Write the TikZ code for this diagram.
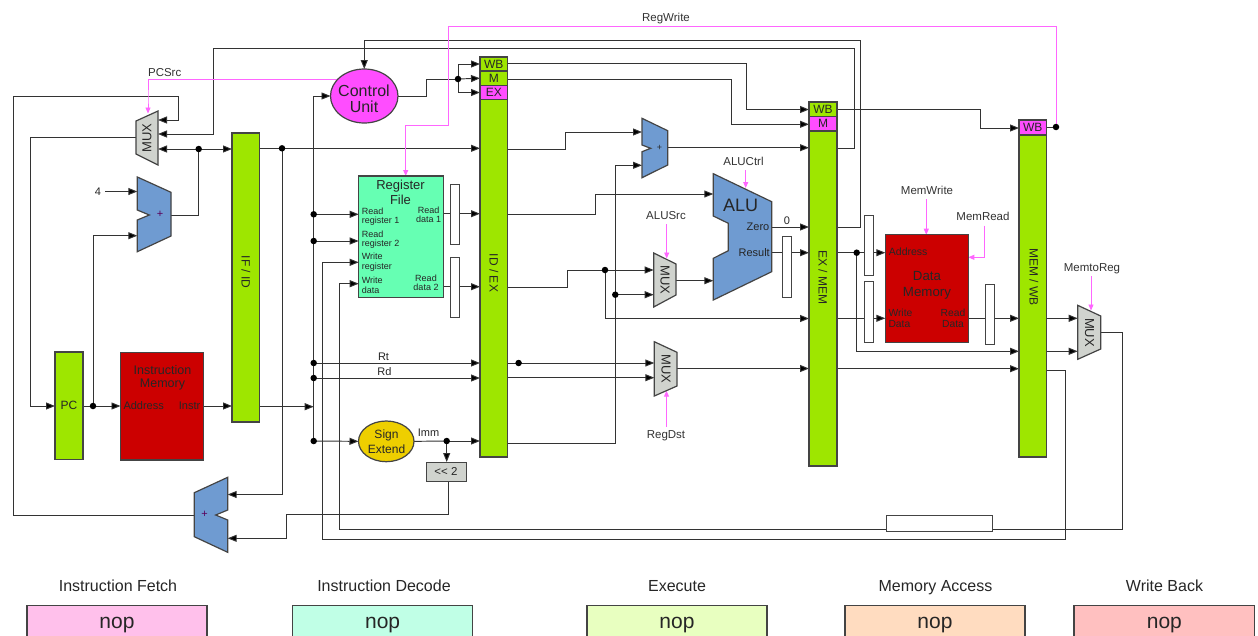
\documentclass[tikz,border=0pt]{standalone}
\usepackage{fontspec}
\setmainfont{Liberation Sans}
\usetikzlibrary{arrows.meta,shapes.geometric}
\pgfdeclarelayer{front}
\pgfsetlayers{main,front}
\definecolor{barg}{HTML}{9EE600}
\definecolor{hot}{HTML}{FF4DFF}
\definecolor{adderb}{HTML}{6F9BD1}
\definecolor{muxg}{HTML}{D0D3CE}
\definecolor{regg}{HTML}{66FFB3}
\definecolor{memr}{HTML}{CC0000}
\definecolor{signy}{HTML}{EECF00}
\definecolor{ink}{HTML}{333333}
\definecolor{edgec}{HTML}{444444}
\definecolor{ctlp}{HTML}{FF66FF}
\definecolor{stpa}{HTML}{FFC0EB}
\definecolor{stpb}{HTML}{C0FFE6}
\definecolor{stpc}{HTML}{E8FFC0}
\definecolor{stpd}{HTML}{FFDCC0}
\definecolor{stpe}{HTML}{FFC0C0}
\newcommand{\fs}[2]{\fontsize{#1}{#2}\selectfont}
\newcommand{\blk}[7]{\node[#1,minimum width={(#5-#3)*1pt},minimum height={(#6-#4)*1pt}] (#2) at ({(#3+#5)/2},{(#4+#6)/2}) {#7};}
\newcommand{\nopword}{\raisebox{-7pt}[0pt][0pt]{nop}}
\tikzset{
  part/.style={draw=edgec,line width=1.2pt,inner sep=0pt,outer sep=0pt,align=center,text=black!85},
  bar/.style={part,fill=barg},
  hotcell/.style={part,fill=hot,font=\fs{12}{12}},
  greencell/.style={part,fill=barg,font=\fs{12}{12}},
  latch/.style={part,fill=white,line width=1pt},
  redblock/.style={part,fill=memr},
  ghost/.style={inner sep=0pt,outer sep=0pt,align=center},
  shapeblue/.style={draw=edgec,line width=1.2pt,fill=adderb,line join=miter},
  shapemux/.style={draw=edgec,line width=1.2pt,fill=muxg,line join=miter},
  txt/.style={inner sep=0pt,align=center,text=black!85},
  ltxt/.style={inner sep=0pt,align=left,text=black!85},
  bartext/.style={txt,rotate=-90,font=\fs{12}{12}},
  muxtext/.style={txt,font=\fs{13}{13}},
  sig/.style={inner sep=1pt,text=black!80,font=\fs{11.5}{12},text height=9pt,text depth=3pt},
  wire/.style={draw=ink,line width=0.95pt,-{Triangle[length=9pt,width=7pt,fill=black]}},
  plain/.style={draw=ink,line width=0.95pt},
  ctl/.style={draw=ctlp,line width=0.95pt,-{Triangle[length=6pt,width=5pt,fill=ctlp]}},
  blob/.style={circle,fill=black,inner sep=0pt,minimum size=6.5pt},
  stage/.style={draw=edgec,line width=1.2pt,inner sep=0pt,font=\fs{21}{21},text=black!85},
  stagetitle/.style={inner sep=0pt,font=\fs{16}{16},text=black!85,text height=12pt,text depth=3pt}
}
\begin{document}
\begin{tikzpicture}[x=1pt,y=-1pt]
\useasboundingbox (0,0) rectangle (1258,635);
\clip (0,0) rectangle (1258,635);
\fill[white] (0,0) rectangle (1258,635);
\begin{pgfonlayer}{front}
% pipeline bars
\blk{bar}{ifid}{232}{133}{259.5}{422}{}
\blk{bar}{idex}{480}{57}{507.5}{457}{}
\blk{bar}{exmem}{809}{102}{837}{466}{}
\blk{bar}{memwb}{1019}{120}{1046.5}{457}{}
\blk{bar,font=\fs{12}{12}}{pc}{55}{352}{83}{459.5}{PC}
\blk{greencell}{idexwb}{480}{57}{507.5}{71}{WB}
\blk{greencell}{idexm}{480}{71}{507.5}{85.5}{M}
\blk{hotcell}{idexex}{480}{85.5}{507.5}{99.5}{EX}
\blk{greencell}{exwb}{809}{102}{837}{116.5}{WB}
\blk{hotcell}{exm}{809}{116.5}{837}{131}{M}
\blk{hotcell}{memwbwb}{1019}{120}{1046.5}{135}{WB}
\node[bartext] (tifid) at (246,272) {IF / ID};
\node[bartext] (tidex) at (494,273) {ID / EX};
\node[bartext] (texmem) at (823,277) {EX / MEM};
\node[bartext] (tmemwb) at (1034,277) {MEM / WB};
% memories and register file
\blk{redblock}{imem}{120.5}{352.5}{203.5}{460}{}
\node[txt,font=\fs{12.5}{13.3}] (timem) at (162.5,377.5) {Instruction\\Memory};
\node[ltxt,anchor=west,font=\fs{11}{11}] (timaddr) at (123.3,406) {Address};
\node[ltxt,anchor=east,font=\fs{11}{11}] (timinstr) at (200.5,406) {Instr};
\blk{redblock}{dmem}{885.3}{234.7}{968.3}{342.3}{}
\node[txt,font=\fs{13.3}{16}] (tdmem) at (927,285.5) {Data\\Memory};
\node[ltxt,anchor=west,font=\fs{10.5}{10.5}] (tdmaddr) at (888.7,252) {Address};
\node[ltxt,anchor=west,font=\fs{10.3}{10.7}] (tdmwd) at (888.3,318) {Write\\Data};
\node[txt,font=\fs{10.3}{10.7}] (tdmrd) at (953,318) {Read\\Data};
\blk{part,fill=regg}{regf}{358.7}{176}{443.7}{297.5}{}
\node[txt,font=\fs{13}{15}] (tregf) at (400.5,192) {Register\\File};
\node[ltxt,anchor=west,font=\fs{9}{9.3}] (trr1) at (361.7,216.7) {Read\\register 1};
\node[ltxt,anchor=west,font=\fs{9}{9.3}] (trr2) at (361.7,239.8) {Read\\register 2};
\node[ltxt,anchor=west,font=\fs{9}{9.3}] (twr) at (361.7,262.2) {Write\\register};
\node[ltxt,anchor=west,font=\fs{9}{9.3}] (twd) at (361.7,285.3) {Write\\data};
\node[txt,font=\fs{9}{9.3}] (trd1) at (428.7,214.5) {Read\\data 1};
\node[txt,font=\fs{9}{9.3}] (trd2) at (426,282.5) {Read\\data 2};
% ellipses and shifter
\blk{part,ellipse,fill=hot}{cu}{330.5}{69}{398}{123}{}
\node[txt,font=\fs{16}{15.7}] (tcu) at (364,98.5) {Control\\Unit};
\blk{part,ellipse,fill=signy}{sext}{358.5}{421}{414}{461.7}{}
\node[txt,font=\fs{12}{14.7}] (tsext) at (386.5,441.5) {Sign\\Extend};
\blk{part,fill=muxg,line width=1pt,font=\fs{11.5}{11.5}}{shl}{426}{462}{466}{481}{<{}< 2}
% adders and ALU
\draw[shapeblue] (137.3,177) -- (171,192.3) -- (171,236) -- (137.3,251.7) -- (137.3,220) -- (149.3,215) -- (137.3,210) -- cycle;
\blk{ghost}{addf}{137.3}{177}{171}{251.7}{}
\node[txt,text=violet!70!black,font=\fs{11}{11}] (taddf) at (160,214.5) {+};
\draw[shapeblue] (642,118.3) -- (667.7,130.7) -- (667.7,165) -- (642,177.7) -- (642,151.7) -- (650.7,148.3) -- (642,145) -- cycle;
\blk{ghost}{addb}{642}{118.3}{667.7}{177.7}{}
\node[txt,font=\fs{9}{9}] (taddb) at (659.5,148) {+};
\draw[shapeblue] (227.7,477.3) -- (194.3,492.7) -- (194.3,536.7) -- (227.7,552.3) -- (227.7,520) -- (215.7,515) -- (227.7,510) -- cycle;
\blk{ghost}{addj}{194.3}{477.3}{227.7}{552.3}{}
\node[txt,text=violet!70!black,font=\fs{11}{11}] (taddj) at (204.5,514.5) {+};
\draw[shapeblue] (713.3,173.7) -- (771.7,201.7) -- (771.7,271.7) -- (713.3,300) -- (713.3,258.3) -- (728.3,250.7) -- (728.3,223.3) -- (713.3,216) -- cycle;
\blk{ghost}{alu}{713.3}{173.7}{771.7}{300}{}
\node[txt,font=\fs{18}{18}] (talu) at (740.5,205.5) {ALU};
\node[ltxt,anchor=east,font=\fs{11}{11}] (tzero) at (769.5,227) {Zero};
\node[ltxt,anchor=east,font=\fs{11}{11}] (tres) at (770,252.7) {Result};
% multiplexers
\draw[shapemux] (136,121) -- (158,111) -- (158,165) -- (136,154) -- cycle;
\blk{ghost}{pcmux}{136}{111}{158}{165}{}
\node[muxtext,rotate=90] (tpcmux) at (147,138) {MUX};
\draw[shapemux] (653.7,253) -- (676,264) -- (676,295) -- (653.7,307) -- cycle;
\blk{ghost}{srcmux}{653.7}{253}{676}{307}{}
\node[muxtext,rotate=-90] (tsrcmux) at (665,280) {MUX};
\draw[shapemux] (654.3,341.7) -- (677,352.3) -- (677,386) -- (654.3,396) -- cycle;
\blk{ghost}{dstmux}{654.3}{341.7}{677}{396}{}
\node[muxtext,rotate=-90] (tdstmux) at (666,369) {MUX};
\draw[shapemux] (1077.7,305.3) -- (1100.7,316) -- (1100.7,349) -- (1077.7,359.3) -- cycle;
\blk{ghost}{wbmux}{1077.7}{305.3}{1100.7}{359.3}{}
\node[muxtext,rotate=-90] (twbmux) at (1089.5,332.5) {MUX};
% latches
\blk{latch}{lrd1}{450.3}{184}{459.3}{244.3}{}
\blk{latch}{lrd2}{450.3}{257}{459.3}{317}{}
\blk{latch}{lres}{782.7}{236.7}{791.7}{297}{}
\blk{latch}{laddr}{864}{215.3}{873}{275.3}{}
\blk{latch}{lwdat}{864}{281.7}{873}{342.3}{}
\blk{latch}{lrdat}{985}{284}{994}{344.3}{}
\blk{latch}{lwb}{886}{515.7}{992.3}{531.7}{}
% junctions
\node[blob] (dadd) at (198.7,149) {};
\node[blob] (dpc) at (93,406) {};
\node[blob] (dif) at (282,148.3) {};
\node[blob] (da) at (313.7,214.3) {};
\node[blob] (db) at (313.7,241) {};
\node[blob] (dc) at (313.7,363) {};
\node[blob] (dd) at (313.7,378) {};
\node[blob] (de) at (313.7,441) {};
\node[blob] (dimm) at (446.7,441) {};
\node[blob] (dctl) at (458,79) {};
\node[blob] (drd) at (605,270) {};
\node[blob] (dsx) at (615.3,294.7) {};
\node[blob] (drt) at (518.6,363) {};
\node[blob] (dres) at (856.7,252.7) {};
\node[blob] (dwb) at (1056,127) {};
\end{pgfonlayer}
% free labels
\node[txt,font=\fs{11}{11}] (four) at (98,191.5) {4};
\node[txt,font=\fs{11}{11}] (trt) at (383.5,357) {Rt};
\node[txt,font=\fs{11}{11}] (trd) at (384.5,372) {Rd};
\node[txt,font=\fs{11}{11}] (timm) at (428.5,432.5) {Imm};
\node[txt,font=\fs{11}{11}] (tzeroval) at (787,220.5) {0};
\node[sig] (lrw) at (666,18) {RegWrite};
\node[sig] (lpc) at (164.7,73.5) {PCSrc};
\node[sig] (lac) at (743.5,162) {ALUCtrl};
\node[sig] (las) at (666,216) {ALUSrc};
\node[sig] (lrg) at (666,435) {RegDst};
\node[sig] (lmw) at (927,191) {MemWrite};
\node[sig] (lmr) at (983,217.5) {MemRead};
\node[sig] (lmg) at (1092,268) {MemtoReg};
% control tip points on sloped edges
\coordinate (tippc) at (148,113.5);
\coordinate (tipalu) at (745.7,188);
\coordinate (tipsrc) at (666.7,258.5);
\coordinate (tipdst) at (666.5,390.7);
\coordinate (tipwb) at (1091,310.5);
% IF stage
\draw[wire] (four.east) ++(4,0) -- (addf.west |- four);
\draw[plain] (addf.east |- 0,215) -| (dadd.center);
\draw[wire] (dadd.center) -- (pcmux.east |- dadd);
\draw[wire] (dadd.center) -- (ifid.west |- dadd);
\draw[wire] (addj.west |- 0,515) -| (13,96.3) -| (178.5,120) -- (pcmux.east |- 0,120);
\draw[wire] (exmem.east |- 0,148) -| (854.7,48) -| (213,134) -- (pcmux.east |- 0,134);
\draw[wire] (pcmux.west |- 0,137) -| (30,406) -- (pc.west |- 0,406);
\draw[plain] (pc.east |- dpc) -- (dpc.center);
\draw[wire] (dpc.center) -- (imem.west |- dpc);
\draw[wire] (dpc.center) |- (addf.west |- 0,235.7);
\draw[wire] (imem.east |- 0,406) -- (ifid.west |- 0,406);
% ID stage
\draw[wire] (ifid.east |- 0,406.7) -- (da.center |- 0,406.7);
\draw[wire] (de.center) -- (313.7,96) -- (cu.west);
\draw[wire] (da.center) -- (regf.west |- da);
\draw[wire] (db.center) -- (regf.west |- db);
\draw[wire] (dc.center) -- (idex.west |- dc);
\draw[wire] (dd.center) -- (idex.west |- dd);
\draw[wire] (de.center) -- (sext.west);
\draw[plain] (ifid.east |- dif) -- (dif.center);
\draw[wire] (dif.center) -- (idex.west |- dif);
\draw[wire] (dif.center) |- (addj.east |- 0,494.5);
\draw[wire] (memwb.east |- 0,370) -| (1065,539.3) -| (322.7,262.3) -- (regf.west |- 0,262.3);
\draw[plain] (wbmux.east |- 0,332.3) -| (1122.3,529) -- (lwb.east |- 0,529);
\draw[wire] (lwb.west |- 0,529) -| (339,283.7) -- (regf.west |- 0,283.7);
\draw[wire] (regf.east |- 0,213.7) -- (idex.west |- 0,213.7);
\draw[wire] (regf.east |- 0,286.7) -- (idex.west |- 0,286.7);
\draw[wire] (cu.north |- 0,40) -- (cu.north);
\draw[plain] (exmem.east |- 0,227) -| (860.7,40) -- (cu.north |- 0,40);
\draw[plain] (cu.east) -| (426.5,79) -- (dctl.center);
\draw[wire] (dctl.center) -- (idexm.west);
\draw[wire] (dctl.center) |- (idexwb.west);
\draw[wire] (dctl.center) |- (idexex.west);
\draw[plain] (sext.east) -- (dimm.center);
\draw[wire] (dimm.center) -- (idex.west |- dimm);
\draw[wire] (dimm.center) -- (shl.north -| dimm);
\draw[wire] (shl.south -| 448,0) |- (286.7,514.3) |- (addj.east |- 0,538.3);
% EX stage
\draw[wire] (idex.east |- 0,149.7) -| (565.7,132) -- (addb.west |- 0,132);
\draw[wire] (idex.east |- 0,443.3) -| (dsx.center) |- (addb.west |- 0,165.3);
\draw[wire] (dsx.center) -- (srcmux.west |- dsx);
\draw[wire] (idex.east |- 0,214) -| (595,194) -- (alu.west |- 0,194);
\draw[plain] (idex.east |- 0,287) -| (567.5,270) -- (drd.center);
\draw[wire] (drd.center) -- (srcmux.west |- drd);
\draw[wire] (drd.center) |- (exmem.west |- 0,318.5);
\draw[wire] (srcmux.east |- 0,280.7) -- (alu.west |- 0,280.7);
\draw[wire] (addb.east |- 0,147.7) -- (exmem.west |- 0,147.7);
\draw[wire] (alu.east |- 0,227) -- (exmem.west |- 0,227);
\draw[wire] (alu.east |- 0,252.7) -- (exmem.west |- 0,252.7);
\draw[plain] (idex.east |- drt) -- (drt.center);
\draw[wire] (drt.center) -- (dstmux.west |- drt);
\draw[wire] (idex.east |- 0,377.7) -- (dstmux.west |- 0,377.7);
\draw[wire] (dstmux.east |- 0,368.5) -- (exmem.west |- 0,368.5);
\draw[wire] (idexwb.east |- 0,63) -| (746.3,109.5) -- (exwb.west |- 0,109.5);
\draw[wire] (idexm.east |- 0,79) -| (731.7,124.3) -- (exm.west |- 0,124.3);
% MEM and WB stages
\draw[plain] (exmem.east |- dres) -- (dres.center);
\draw[wire] (dres.center) -- (dmem.west |- dres);
\draw[wire] (dres.center) |- (memwb.west |- 0,351.3);
\draw[wire] (exmem.east |- 0,318.3) -- (dmem.west |- 0,318.3);
\draw[wire] (dmem.east |- 0,318.3) -- (memwb.west |- 0,318.3);
\draw[wire] (memwb.east |- 0,318.3) -- (wbmux.west |- 0,318.3);
\draw[wire] (memwb.east |- 0,351.3) -- (wbmux.west |- 0,351.3);
\draw[wire] (exmem.east |- 0,368.7) -- (memwb.west |- 0,368.7);
\draw[wire] (exwb.east |- 0,109.7) -| (980.7,128) -- (memwbwb.west |- 0,128);
\draw[plain] (memwbwb.east |- dwb) -- (dwb.center);
% control signals
\draw[ctl] (dwb.center) |- (448,26) |- (405.7,125) -- (regf.north -| 405.7,0);
\draw[ctl] (cu.center |- 0,79.3) -| (148,100) -- (tippc);
\draw[ctl,shorten <=1pt] (lac.south -| tipalu) -- (tipalu);
\draw[ctl,shorten <=1pt] (las.south -| tipsrc) -- (tipsrc);
\draw[ctl,shorten <=1pt] (lrg.north -| tipdst) -- (tipdst);
\draw[ctl,shorten <=1pt] (lmw.south -| 926.3,0) -- (dmem.north -| 926.3,0);
\draw[ctl,shorten <=1pt] (lmr.south -| 984,0) |- (dmem.east |- 0,257.3);
\draw[ctl,shorten <=1pt] (lmg.south -| tipwb) -- (tipwb);
% stage banners
\node[stagetitle] (h1) at (118,586.5) {Instruction Fetch};
\node[stagetitle] (h2) at (384,586.5) {Instruction Decode};
\node[stagetitle] (h3) at (677,586.5) {Execute};
\node[stagetitle] (h4) at (935.5,586.5) {Memory Access};
\node[stagetitle] (h5) at (1164.5,586.5) {Write Back};
\blk{stage,fill=stpa}{s1}{27}{605.7}{207}{637}{\nopword}
\blk{stage,fill=stpb}{s2}{292.5}{605.7}{472.7}{637}{\nopword}
\blk{stage,fill=stpc}{s3}{587}{605.7}{767}{637}{\nopword}
\blk{stage,fill=stpd}{s4}{845}{605.7}{1025}{637}{\nopword}
\blk{stage,fill=stpe}{s5}{1074}{605.7}{1254.7}{637}{\nopword}
\end{tikzpicture}
\end{document}
